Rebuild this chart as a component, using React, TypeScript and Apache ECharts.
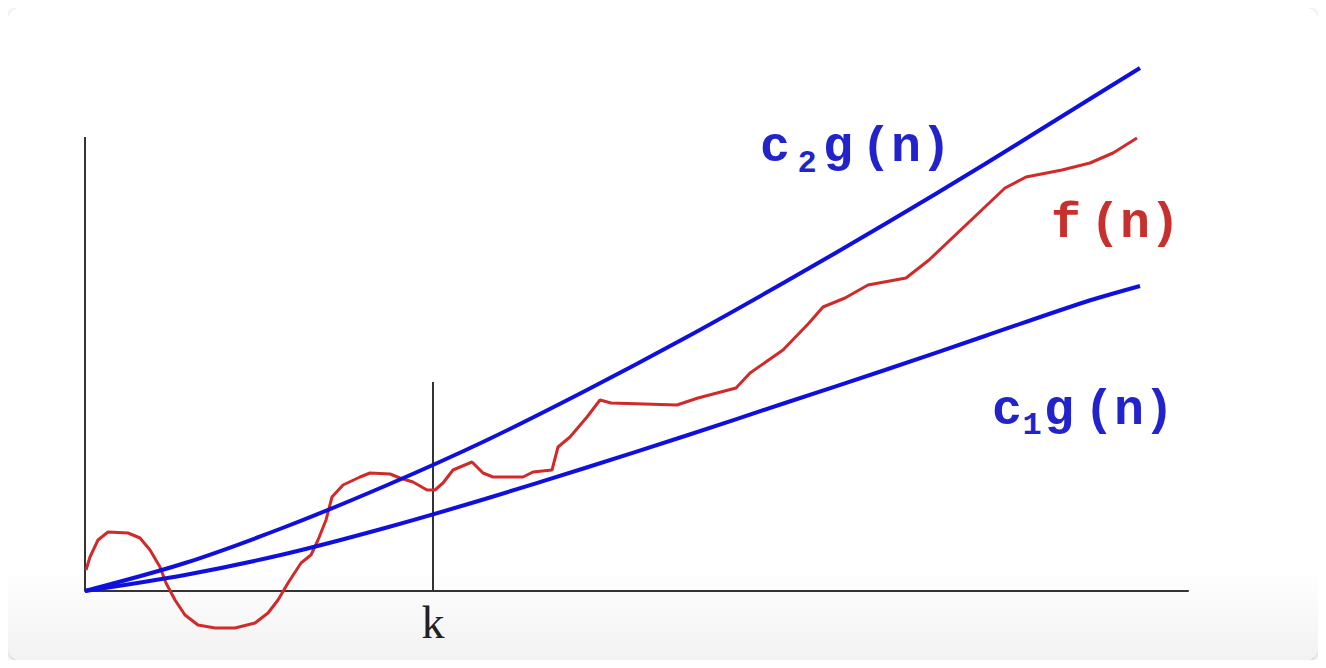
import React, { useEffect, useRef } from "react";
import * as echarts from "echarts";

// x = distance along n axis, y = height above n axis (same units as plot)
const xMax = 1103;
const yMin = 0;
const yMax = 540;
const kValue = 348;
const yAxisTop = 454;
const kLineTop = 209;

const c2Points: [number, number][] = [
  [0, 0], [100, 28], [200, 64], [300, 105], [400, 150], [500, 200],
  [600, 253], [700, 309], [800, 367], [900, 427], [1000, 489], [1055, 523],
];

const c1Points: [number, number][] = [
  [0, 0], [100, 16], [200, 37], [300, 63], [400, 92], [500, 123],
  [600, 155], [700, 188], [800, 221], [900, 255], [1000, 289], [1055, 305],
];

const fPoints: [number, number][] = [
  [1, 21], [5, 34], [13, 51], [23, 59], [43, 58], [55, 53], [65, 41], [75, 24],
  [81, 8], [90, -9], [100, -24], [113, -34], [130, -37], [150, -37], [170, -32],
  [183, -22], [193, -9], [203, 8], [216, 28], [226, 36], [233, 51], [241, 71],
  [247, 94], [258, 106], [275, 114], [285, 118], [305, 117], [315, 113],
  [328, 109], [342, 101], [350, 101], [358, 108], [368, 121], [387, 129],
  [398, 118], [408, 114], [438, 114], [448, 119], [467, 121], [473, 144],
  [485, 154], [502, 174], [515, 191], [526, 188], [592, 186], [613, 193],
  [651, 203], [665, 218], [698, 241], [724, 268], [738, 284], [760, 293],
  [783, 306], [821, 313], [844, 331], [920, 403], [941, 414], [977, 421],
  [1005, 428], [1028, 438], [1052, 453],
];

const BLUE = "#1010dc";
const RED = "#d02a2a";
const BLUE_TEXT = "#2323cc";
const RED_TEXT = "#c8302e";
const MONO = "'Liberation Mono', 'DejaVu Sans Mono', monospace";

type Piece = { t: string; x: number; y: number; size: number; color: string };

const labelPieces: Piece[] = [
  // c2g(n)
  { t: "c", x: 767, y: 139, size: 50, color: BLUE_TEXT },
  { t: "2", x: 799, y: 155, size: 32, color: BLUE_TEXT },
  { t: "g", x: 830, y: 139, size: 50, color: BLUE_TEXT },
  { t: "(n)", x: 898, y: 139, size: 50, color: BLUE_TEXT },
  // f(n)
  { t: "f", x: 1058, y: 215, size: 50, color: RED_TEXT },
  { t: "(n)", x: 1127, y: 215, size: 50, color: RED_TEXT },
  // c1g(n)
  { t: "c", x: 999, y: 402, size: 50, color: BLUE_TEXT },
  { t: "1", x: 1024, y: 417, size: 32, color: BLUE_TEXT },
  { t: "g", x: 1051, y: 402, size: 50, color: BLUE_TEXT },
  { t: "(n)", x: 1121, y: 402, size: 50, color: BLUE_TEXT },
];

export default function App() {
  const ref = useRef<HTMLDivElement>(null);

  useEffect(() => {
    if (!ref.current) return;
    const chart = echarts.init(ref.current, null, { renderer: "svg" });
    chart.setOption({
      animation: false,
      grid: {
        left: 77,
        top: 43,
        width: xMax,
        height: yMax - yMin,
        containLabel: false,
        outerBoundsMode: "none",
      },
      xAxis: {
        type: "value",
        min: 0,
        max: xMax,
        interval: kValue,
        axisLine: { show: true, onZero: true, lineStyle: { color: "#333", width: 2 } },
        axisTick: { show: false },
        splitLine: { show: false },
        axisLabel: {
          show: true,
          margin: 8,
          fontFamily: "'Liberation Serif', serif",
          fontSize: 46,
          color: "#222",
          formatter: (v: number) => (v === kValue ? "k" : ""),
        },
      },
      yAxis: {
        type: "value",
        min: yMin,
        max: yMax,
        axisLine: { show: false },
        axisTick: { show: false },
        axisLabel: { show: false },
        splitLine: { show: false },
      },
      series: [
        {
          type: "line",
          data: [[0, 0], [0, yAxisTop]],
          symbol: "none",
          lineStyle: { color: "#333", width: 2 },
          z: 1,
        },
        {
          type: "line",
          data: [[kValue, 0], [kValue, kLineTop]],
          symbol: "none",
          lineStyle: { color: "#333", width: 2 },
          z: 1,
        },
        {
          type: "line",
          data: fPoints,
          symbol: "none",
          clip: false,
          lineStyle: { color: RED, width: 3 },
          z: 2,
        },
        {
          type: "line",
          data: c1Points,
          symbol: "none",
          smooth: 0.3,
          clip: false,
          lineStyle: { color: BLUE, width: 4 },
          z: 3,
        },
        {
          type: "line",
          data: c2Points,
          symbol: "none",
          smooth: 0.3,
          clip: false,
          lineStyle: { color: BLUE, width: 4 },
          z: 3,
        },
      ],
      graphic: labelPieces.map((p) => ({
        type: "text",
        x: p.x,
        y: p.y,
        style: {
          text: p.t,
          fill: p.color,
          font: `bold ${p.size}px ${MONO}`,
          textAlign: "center",
          textVerticalAlign: "middle",
        },
      })),
    });
    return () => chart.dispose();
  }, []);

  return (
    <div
      ref={ref}
      style={{
        width: 1310,
        height: 652,
        borderRadius: 12,
        boxShadow: "0 1px 5px rgba(0,0,0,0.28)",
        background: "linear-gradient(to bottom, #ffffff 0%, #ffffff 86%, #f2f2f2 100%)",
      }}
    />
  );
}
